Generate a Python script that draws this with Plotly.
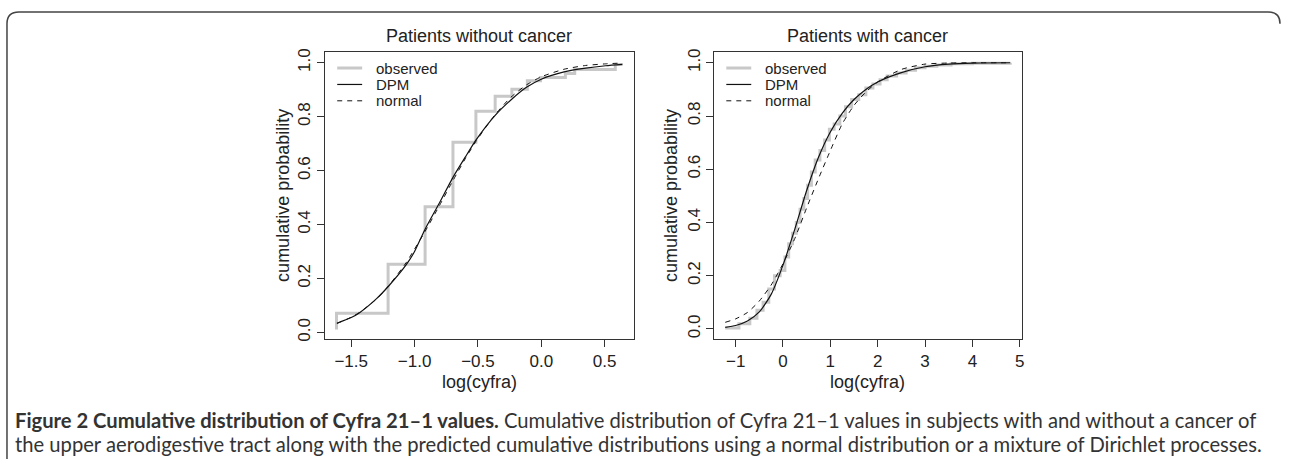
import plotly.graph_objects as go

W, H = 1289, 460

# ---------------- data ----------------
# Left panel: patients without cancer
left_obs_x = [-1.616, -1.616, -1.209, -0.917, -0.697, -0.516, -0.364, -0.232, -0.110, -0.006, 0.190, 0.264, 0.584, 0.642]
left_obs_y = [0.011, 0.071, 0.253, 0.466, 0.705, 0.820, 0.876, 0.902, 0.933, 0.945, 0.960, 0.975, 0.994, 0.994]

left_dpm_x = [-1.613, -1.50, -1.434, -1.30, -1.206, -1.067, -1.00, -0.92, -0.804, -0.697, -0.60, -0.516, -0.364, -0.24, -0.117, 0.0, 0.18, 0.35, 0.508, 0.64]
left_dpm_y = [0.034, 0.055, 0.073, 0.125, 0.171, 0.250, 0.300, 0.380, 0.480, 0.575, 0.650, 0.713, 0.805, 0.862, 0.909, 0.939, 0.966, 0.980, 0.989, 0.994]

left_norm_x = [-1.613, -1.50, -1.434, -1.30, -1.206, -1.067, -1.00, -0.92, -0.804, -0.697, -0.60, -0.516, -0.364, -0.24, -0.117, 0.0, 0.18, 0.35, 0.508, 0.64]
left_norm_y = [0.033, 0.056, 0.074, 0.124, 0.172, 0.258, 0.309, 0.372, 0.470, 0.563, 0.644, 0.708, 0.808, 0.872, 0.918, 0.948, 0.976, 0.990, 0.996, 0.999]

# Right panel: patients with cancer
right_obs_x = [-1.22, -0.93, -0.70, -0.55, -0.42, -0.30, -0.18, -0.06, 0.04, 0.12, 0.20, 0.28, 0.36, 0.44, 0.52, 0.60, 0.68, 0.78,
               0.88, 0.98, 1.08, 1.20, 1.32, 1.45, 1.60, 1.75, 1.90, 2.05, 2.20, 2.40, 2.60, 2.80, 3.00, 3.25, 3.55, 4.00, 4.80]
right_obs_y = [0.004, 0.020, 0.040, 0.070, 0.100, 0.150, 0.200, 0.220, 0.270, 0.320, 0.360, 0.400, 0.450, 0.490, 0.540, 0.590, 0.635, 0.670,
               0.710, 0.750, 0.770, 0.800, 0.835, 0.862, 0.880, 0.905, 0.920, 0.936, 0.950, 0.962, 0.972, 0.981, 0.987, 0.992, 0.996, 0.998, 1.000]

right_dpm_x = [-1.22, -1.00, -0.75, -0.50, -0.25, 0.00, 0.25, 0.50, 0.75, 1.00, 1.25, 1.50, 1.75, 2.00, 2.50, 3.00, 3.50, 4.00, 4.80]
right_dpm_y = [0.006, 0.013, 0.030, 0.064, 0.130, 0.240, 0.375, 0.520, 0.645, 0.740, 0.810, 0.862, 0.900, 0.928, 0.963, 0.985, 0.995, 0.999, 1.000]

right_norm_x = [-1.22, -1.00, -0.75, -0.50, -0.25, 0.00, 0.25, 0.50, 0.75, 1.00, 1.25, 1.50, 1.75, 2.00, 2.50, 3.00, 3.50, 4.00, 4.80]
right_norm_y = [0.025, 0.038, 0.062, 0.105, 0.165, 0.245, 0.340, 0.455, 0.565, 0.670, 0.770, 0.840, 0.890, 0.928, 0.975, 0.995, 0.999, 1.000, 1.000]

left_xticks = [-1.5, -1.0, -0.5, 0.0, 0.5]
right_xticks = [-1, 0, 1, 2, 3, 4, 5]
yticks = [0.0, 0.2, 0.4, 0.6, 0.8, 1.0]

titles = ["Patients without cancer", "Patients with cancer"]
xlabel = "log(cyfra)"
ylabel = "cumulative probability"
legend_labels = ["observed", "DPM", "normal"]
caption_bold = "Figure 2 Cumulative distribution of Cyfra 21\u20131 values."
caption_rest1 = " Cumulative distribution of Cyfra 21\u20131 values in subjects with and without a cancer of"
caption_line2 = ("the upper aerodigestive tract along with the predicted cumulative distributions "
                 "using a normal distribution or a mixture of Dirichlet processes.")

# ---------------- styling ----------------
FONT = "Liberation Sans, Arial, Helvetica, sans-serif"
TXT = "#222222"
AX = "#333333"
OBS_C = "#c8c8c8"


def px(x):
    return x / W


def py(y):
    return 1 - y / H


fig = go.Figure()

panels = [
    ("x", "y", left_obs_x, left_obs_y, left_dpm_x, left_dpm_y, left_norm_x, left_norm_y),
    ("x2", "y2", right_obs_x, right_obs_y, right_dpm_x, right_dpm_y, right_norm_x, right_norm_y),
]
for xa, ya, ox, oy, dx, dy, nx, ny in panels:
    fig.add_trace(go.Scatter(x=ox, y=oy, mode="lines", name="observed", xaxis=xa, yaxis=ya,
                             line=dict(color=OBS_C, width=3, shape="hv"), showlegend=False))
    fig.add_trace(go.Scatter(x=nx, y=ny, mode="lines", name="normal", xaxis=xa, yaxis=ya,
                             line=dict(color="#111111", width=1, dash="5px,5px", shape="spline", smoothing=0.6),
                             showlegend=False))
    fig.add_trace(go.Scatter(x=dx, y=dy, mode="lines", name="DPM", xaxis=xa, yaxis=ya,
                             line=dict(color="#111111", width=1.2, shape="spline", smoothing=0.6),
                             showlegend=False))

# plot boxes in pixels
boxes = [(326, 635), (716, 1024)]
top, bottom = 49, 340
ydom = [py(bottom), py(top)]

axis_common = dict(showline=True, linecolor=AX, linewidth=1, mirror=True, showgrid=False, zeroline=False,
                   ticks="outside", ticklen=7, tickwidth=1, tickcolor=AX,
                   tickfont=dict(family=FONT, size=17, color=TXT))

fig.update_layout(
    width=W, height=H, autosize=False,
    margin=dict(l=0, r=0, t=0, b=0),
    paper_bgcolor="white", plot_bgcolor="white",
    font=dict(family=FONT, color=TXT),
    showlegend=False,
    xaxis=dict(domain=[px(boxes[0][0]), px(boxes[0][1])], range=[-1.705, 0.728], anchor="y",
               tickvals=left_xticks, tickformat=".1f", **axis_common),
    yaxis=dict(domain=ydom, range=[-0.024, 1.039], anchor="x",
               tickvals=yticks, tickformat=".1f", tickangle=-90, **axis_common),
    xaxis2=dict(domain=[px(boxes[1][0]), px(boxes[1][1])], range=[-1.45, 5.04], anchor="y2",
                tickvals=right_xticks, tickformat="d", **axis_common),
    yaxis2=dict(domain=ydom, range=[-0.037, 1.0395], anchor="x2",
                tickvals=yticks, tickformat=".1f", tickangle=-90, **axis_common),
)

annotations = []
shapes = []
for i, (x0, x1) in enumerate(boxes):
    cx = (x0 + x1) / 2
    # title
    annotations.append(dict(text=titles[i], x=px(cx), y=py(32), xref="paper", yref="paper",
                            showarrow=False, xanchor="center", yanchor="middle",
                            font=dict(family=FONT, size=18, color=TXT)))
    # x label
    annotations.append(dict(text=xlabel, x=px(cx), y=py(384), xref="paper", yref="paper",
                            showarrow=False, xanchor="center", yanchor="middle",
                            font=dict(family=FONT, size=18, color=TXT)))
    # y label
    ylab_x = 283 if i == 0 else 672
    annotations.append(dict(text=ylabel, x=px(ylab_x), y=py((top + bottom) / 2), xref="paper", yref="paper",
                            showarrow=False, xanchor="center", yanchor="middle", textangle=-90,
                            font=dict(family=FONT, size=18, color=TXT)))
    # legend (R style, no box)
    lx0 = x0 + 12
    rows = [65, 81.7, 98.3]
    styles = [dict(color=OBS_C, width=3), dict(color="#111111", width=1.2),
              dict(color="#111111", width=1, dash="5px,5px")]
    for lab, ry, st in zip(legend_labels, rows, styles):
        shapes.append(dict(type="line", xref="paper", yref="paper", x0=px(lx0), x1=px(lx0 + 25),
                           y0=py(ry), y1=py(ry), line=st))
        annotations.append(dict(text=lab, x=px(lx0 + 37), y=py(ry), xref="paper", yref="paper",
                                showarrow=False, xanchor="left", yanchor="middle",
                                font=dict(family=FONT, size=15, color=TXT)))

# caption
CAP_FONT = "Lato, Open Sans, sans-serif"
annotations.append(dict(text="<b>" + caption_bold + "</b>" + caption_rest1, x=px(13), y=py(422),
                        xref="paper", yref="paper", showarrow=False, xanchor="left", yanchor="middle",
                        font=dict(family=CAP_FONT, size=20.2, color="#333333")))
annotations.append(dict(text=caption_line2, x=px(13), y=py(447),
                        xref="paper", yref="paper", showarrow=False, xanchor="left", yanchor="middle",
                        font=dict(family=CAP_FONT, size=20.2, color="#333333")))

# figure frame (rounded top-left / top-right)
path = (f"M {px(7)},{py(462)} L {px(7)},{py(20)} Q {px(7)},{py(8)} {px(19)},{py(8)} "
        f"L {px(1271)},{py(8)} Q {px(1283)},{py(8)} {px(1283)},{py(20)}")
shapes.append(dict(type="path", xref="paper", yref="paper", path=path, line=dict(color="#444444", width=1.5)))

fig.update_layout(annotations=annotations, shapes=shapes)

fig.write_html("out.html", config={"displayModeBar": False},
               post_script="document.body.style.margin='0px';document.body.style.overflow='hidden';")
